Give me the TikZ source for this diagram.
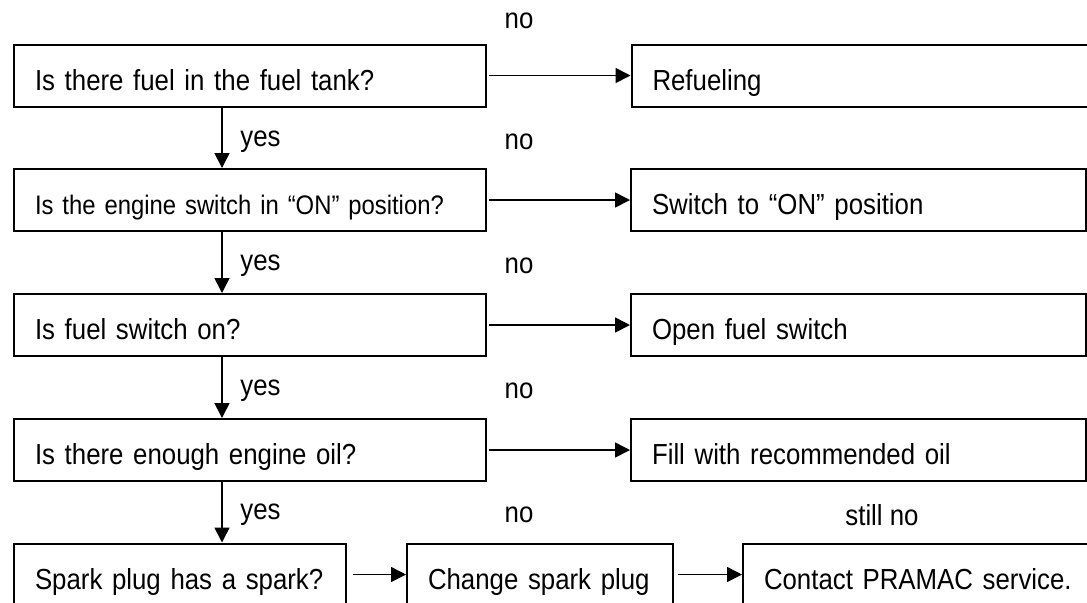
\documentclass[tikz,border=0pt]{standalone}
\usepackage{fontspec}
\setmainfont{Liberation Sans}[FakeStretch=0.89]
\usetikzlibrary{arrows.meta}

\begin{document}
\begin{tikzpicture}[
        x=0.5pt, y=-0.5pt,
        qbox/.style={rectangle, draw=black, line width=1pt, inner xsep=10.5pt,
                     minimum height=31pt, text height=14.5pt, text depth=0pt,
                     align=left, font=\fontsize{14.5}{17}\selectfont,
                     execute at begin node=\hbox\bgroup,
                     execute at end node=\egroup},
        lbl/.style={inner sep=0pt, font=\fontsize{14.5}{17}\selectfont},
        arrow/.style={-{Triangle[length=7.5pt,width=7.5pt]}, line width=0.8pt}
      ]
        \useasboundingbox (0,0) rectangle (1087,602);
        \clip (0,0) rectangle (1087,602);
        % Questions, left column
        \node[qbox, text width=215pt] (q1) at (250,75.5)
          {Is there fuel in the fuel tank?};
        \node[qbox, text width=215pt, font=\fontsize{13.4}{16}\selectfont] (q2) at (250,200)
          {Is the engine switch in “ON” position?};
        \node[qbox, text width=215pt] (q3) at (250,325)
          {Is fuel switch on?};
        \node[qbox, text width=215pt] (q4) at (250,450)
          {Is there enough engine oil?};
        \node[qbox, text width=145pt] (q5) at (180,574.5)
          {Spark plug has a spark?};
        % Remedies, right column
        \node[qbox, text width=233pt] (r1) at (885.5,75.5)
          {Refueling};
        \node[qbox, text width=206.5pt] (r2) at (858.5,200)
          {Switch to “ON” position};
        \node[qbox, text width=206.5pt] (r3) at (858.5,325)
          {Open fuel switch};
        \node[qbox, text width=206.5pt] (r4) at (858.5,450)
          {Fill with recommended oil};
        \node[qbox, text width=112pt] (r5) at (540,574.5)
          {Change spark plug};
        \node[qbox, text width=177.5pt] (r6) at (941.5,574.5)
          {Contact PRAMAC service.};
        % Edges
        \coordinate (ax) at (222,0);
        \draw[arrow] (q1.south -| ax) -- (q2.north -| ax);
        \draw[arrow] (q2.south -| ax) -- (q3.north -| ax);
        \draw[arrow] (q3.south -| ax) -- (q4.north -| ax);
        \draw[arrow] (q4.south -| ax) -- (q5.north -| ax);
        \draw[arrow, shorten <=1pt] (q1.east) -- (r1.west);
        \draw[arrow, shorten <=1pt] (q2.east) -- (r2.west);
        \draw[arrow, shorten <=1pt] (q3.east) -- (r3.west);
        \draw[arrow, shorten <=1pt] (q4.east) -- (r4.west);
        \draw[arrow, shorten <=3pt] (q5.east) -- (r5.west);
        \draw[arrow, shorten <=2pt] (r5.east) -- (r6.west);
        % Edge labels
        \node[lbl] (n1) at (519,21) {no};
        \node[lbl] (y1) at (260.5,142) {yes};
        \node[lbl] (n2) at (519,142) {no};
        \node[lbl] (y2) at (260.5,266) {yes};
        \node[lbl] (n3) at (519,266) {no};
        \node[lbl] (y3) at (260.5,391) {yes};
        \node[lbl] (n4) at (519,391) {no};
        \node[lbl] (y4) at (260.5,515) {yes};
        \node[lbl] (n5) at (519,515) {no};
        \node[lbl] (n6) at (882,515) {still no};
      \end{tikzpicture}
\end{document}
